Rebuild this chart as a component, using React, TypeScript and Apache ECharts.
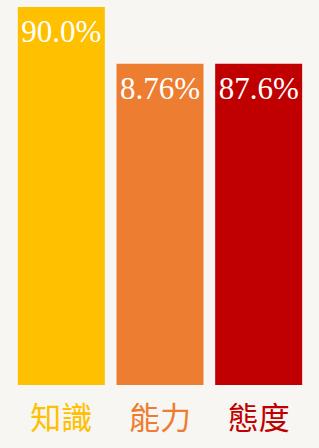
import React, { useEffect, useRef } from "react";
import * as echarts from "echarts";

const categories = ["知識", "能力", "態度"];
const values = [90.0, 87.6, 87.6];
const labelTexts = ["90.0%", "8.76%", "87.6%"];
const colors = ["#FFC000", "#ED7D31", "#C00000"];

export default function App() {
  const ref = useRef<HTMLDivElement>(null);
  useEffect(() => {
    if (!ref.current) return;
    const chart = echarts.init(ref.current, null, { renderer: "svg" });
    chart.setOption({
      animation: false,
      backgroundColor: "#F8F6F2",
      grid: { left: 12, right: 11, top: 7, bottom: 63 },
      xAxis: {
        type: "category",
        data: categories,
        axisLine: { show: false },
        axisTick: { show: false },
        axisLabel: {
          margin: 15,
          fontSize: 31,
          fontFamily: "Noto Sans CJK TC",
          color: (v: string, i: number) => colors[i],
        },
      },
      yAxis: {
        type: "value",
        min: 74,
        max: 90,
        show: false,
        splitLine: { show: false },
      },
      series: [
        {
          type: "bar",
          barWidth: 87,
          data: values.map((v, i) => ({ value: v, itemStyle: { color: colors[i] } })),
          label: {
            show: true,
            position: "insideTop",
            distance: 9,
            color: "#ffffff",
            fontSize: 31,
            fontFamily: "Liberation Serif",
            formatter: (p: any) => labelTexts[p.dataIndex],
          },
        },
      ],
    });
    return () => chart.dispose();
  }, []);
  return (
    <div
      ref={ref}
      style={{ position: "absolute", left: 0, top: 0, width: 319, height: 448 }}
    />
  );
}
